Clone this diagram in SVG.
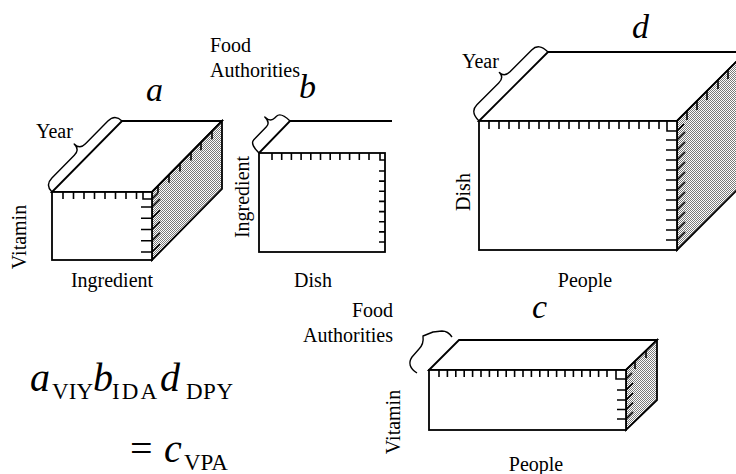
<svg xmlns="http://www.w3.org/2000/svg" width="736" height="474" viewBox="0 0 736 474">
<defs>
<pattern id="dots" width="2" height="2" patternUnits="userSpaceOnUse">
<rect width="2" height="2" fill="#ffffff"/>
<rect width="1" height="1" fill="#7a7a7a"/>
<rect x="1" y="1" width="1" height="1" fill="#7a7a7a"/>
</pattern>
</defs>
<style>
.face{fill:#ffffff;stroke:#000;stroke-width:1.8;stroke-linejoin:miter}
.side{fill:url(#dots);stroke:#000;stroke-width:1.8}
.edge{fill:none;stroke:#000;stroke-width:1.8}
.tick{fill:none;stroke:#000;stroke-width:1.6}
.brace{fill:none;stroke:#000;stroke-width:1.4;stroke-linejoin:round}
.lbl{font-family:"Liberation Serif","Times New Roman",serif;font-size:20px;fill:#000}
.mi{font-family:"Liberation Serif","Times New Roman",serif;font-style:italic;font-size:34px;fill:#000}
.fm{font-family:"Liberation Serif","Times New Roman",serif;font-style:italic;font-size:40px;fill:#000}
.sub{font-family:"Liberation Serif","Times New Roman",serif;font-size:23px;fill:#000}
.eq{font-family:"Liberation Serif","Times New Roman",serif;font-size:40px;fill:#000}
</style>
<rect width="736" height="474" fill="#ffffff"/>

<g id="cube-a">
<polygon class="face" points="52,192 122,121 222,121 152,192"/>
<polygon class="side" points="152,192 222,121 222,189 152,260"/>
<rect class="face" x="52" y="192" width="100" height="68"/>
<path class="tick" d="M63,192v7M73.5,192v7M84,192v7M94.5,192v7M105,192v7M115.5,192v7M126,192v7M136.5,192v7M143,192V199H152M141,207H152M141,218.3H152M141,229.5H152M141,240.8H152M141,252H152"/>
<path class="tick" d="M152,199l6,-6M152,207l8,-8M152,218.3l8,-8M152,229.5l8,-8M152,240.8l8,-8M152,252l8,-8M158,186v7M169,174.8v8M180,163.6v8M191,152.5v8M201,142.3v8M212,131.2v8"/>
<path class="brace" d="M52,192Q44.9,185 51.9,177.9L74.3,155.2Q79.9,149.5 74.2,143.9Q79.9,149.5 85.5,143.8L107.9,121.1Q114.9,114 122,121"/>
<text class="lbl" x="36" y="138">Year</text>
<text class="lbl" transform="translate(26,237) rotate(-90)" text-anchor="middle">Vitamin</text>
<text class="lbl" x="112" y="287" text-anchor="middle">Ingredient</text>
<text class="mi" x="146" y="101">a</text>
</g>

<g id="cube-b">
<rect class="face" x="259" y="153" width="126" height="99"/>
<path class="edge" d="M259,153L290,121H392"/>
<path class="tick" d="M272,153v7M281.7,153v7M291.4,153v7M301.1,153v7M310.8,153v7M320.5,153v7M330.2,153v7M339.9,153v7M349.6,153v7M359.3,153v7M369,153v7M380,153V160H385M379,171H385M379,181.1H385M379,191.3H385M379,201.4H385M379,211.6H385M379,221.7H385M379,231.9H385M379,242H385"/>
<path class="brace" d="M259,153Q249.7,144 253.8,139.7L266.4,126.7Q270.5,122.4 264.8,116.9Q270.5,122.4 274.7,118.1L276.5,116.3Q280.7,112 290,121"/>
<text class="lbl" x="210" y="52">Food</text>
<text class="lbl" x="210" y="77">Authorities</text>
<text class="lbl" transform="translate(249,197) rotate(-90)" text-anchor="middle">Ingredient</text>
<text class="lbl" x="313" y="287" text-anchor="middle">Dish</text>
<text class="mi" x="299" y="98">b</text>
</g>

<g id="cube-d">
<polygon class="face" points="479,121 548,52 746,52 677,121"/>
<polygon class="side" points="677,121 746,52 746,181 677,250"/>
<rect class="face" x="479" y="121" width="198" height="129"/>
<path class="tick" d="M489,121v8M499,121v8M509,121v8M519,121v8M529,121v8M539,121v8M549,121v8M559,121v8M569,121v8M579,121v8M589,121v8M599,121v8M609,121v8M619,121v8M629,121v8M639,121v8M649,121v8M659,121v8M667,121V131H677M666,140H677M666,150H677M666,160H677M666,170H677M666,180H677M666,190H677M666,200H677M666,210H677M666,220H677M666,230H677M666,240H677"/>
<path class="tick" d="M677,131l7,-7M677,140l8,-8M677,150l8,-8M677,160l8,-8M677,170l8,-8M677,180l8,-8M677,190l8,-8M677,200l8,-8M677,210l8,-8M677,220l8,-8M677,230l8,-8M677,240l8,-8M687,111v9M697,101v9M707,91v9M718,80v9M728,70v9"/>
<path class="brace" d="M479,121Q469.8,111.8 476.9,104.7L498.7,83Q504.3,77.3 499.4,72.4Q504.3,77.3 510,71.7L531.7,49.9Q538.8,42.8 548,52"/>
<text class="lbl" x="462" y="68">Year</text>
<text class="lbl" transform="translate(470,192) rotate(-90)" text-anchor="middle">Dish</text>
<text class="lbl" x="585" y="287" text-anchor="middle">People</text>
<text class="mi" x="632" y="38">d</text>
</g>

<g id="cube-c">
<polygon class="face" points="429,370 459,340 657,340 626,370"/>
<polygon class="side" points="626,370 657,340 657,400 626,430"/>
<rect class="face" x="429" y="370" width="197" height="60"/>
<path class="tick" d="M439,370v7M447.4,370v7M455.8,370v7M464.2,370v7M472.6,370v7M481,370v7M489.4,370v7M497.8,370v7M506.2,370v7M514.6,370v7M523,370v7M531.4,370v7M539.8,370v7M548.2,370v7M556.6,370v7M565,370v7M573.4,370v7M581.8,370v7M590.2,370v7M598.6,370v7M607,370v7M616,370V379H626M617,390H626M617,400H626M617,409.5H626M617,419H626"/>
<path class="tick" d="M626,379l6,-6M626,390l7,-7M626,400l7,-7M626,409.5l7,-7M626,419l7,-7M635,361v8M646,350v8"/>
<path class="brace" d="M417,373Q406,366 412,357L419,349Q424,344 423,336Q428,334 433,332L442,331Q448,331 452,337"/>
<text class="lbl" x="393" y="317" text-anchor="end">Food</text>
<text class="lbl" x="393" y="342" text-anchor="end">Authorities</text>
<text class="lbl" transform="translate(400,422) rotate(-90)" text-anchor="middle">Vitamin</text>
<text class="lbl" x="536" y="471" text-anchor="middle">People</text>
<text class="mi" x="532" y="318">c</text>
</g>

<g id="formula">
<text class="fm" x="30" y="391">a</text>
<text class="sub" x="52" y="399" textLength="41">VIY</text>
<text class="fm" x="93" y="391">b</text>
<text class="sub" x="112" y="399" textLength="45">IDA</text>
<text class="fm" x="160" y="391">d</text>
<text class="sub" x="186" y="399" textLength="47">DPY</text>
<text class="eq" x="130" y="462">=</text>
<text class="fm" x="164" y="462">c</text>
<text class="sub" x="184" y="470">VPA</text>
</g>
</svg>
